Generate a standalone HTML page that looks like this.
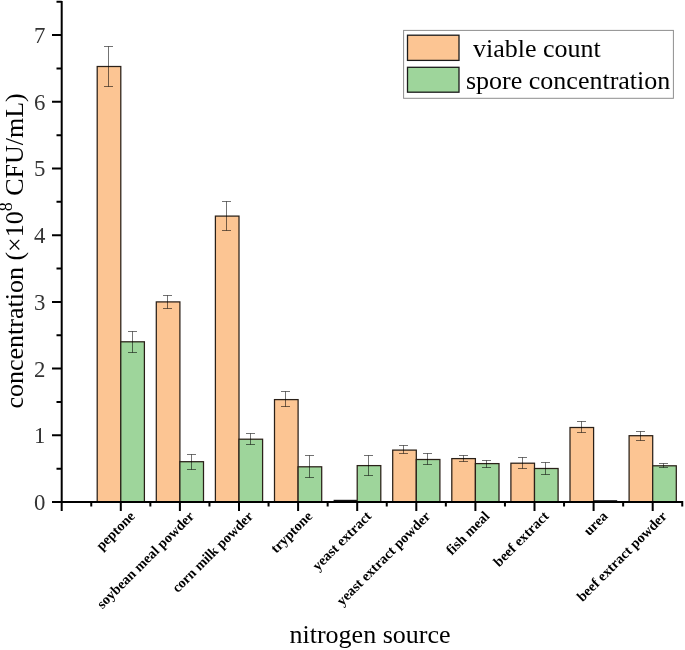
<!DOCTYPE html>
<html><head><meta charset="utf-8"><style>
html,body{margin:0;padding:0;background:#fff;}
svg{display:block;will-change:transform;}
.tl{font-family:"Liberation Serif",serif;font-size:22.8px;fill:#333;}
.lg{font-family:"Liberation Serif",serif;font-size:26px;fill:#000;}
.xl{font-family:"Liberation Serif",serif;font-size:14.2px;font-weight:bold;fill:#000;}
</style></head><body>
<svg width="685" height="650" viewBox="0 0 685 650">
<rect x="97.20" y="66.50" width="23.60" height="435.50" fill="#FCC593" stroke="#2a2018" stroke-width="1.25"/>
<rect x="120.80" y="341.80" width="23.60" height="160.20" fill="#9ED59B" stroke="#2a2018" stroke-width="1.25"/>
<rect x="156.30" y="301.90" width="23.60" height="200.10" fill="#FCC593" stroke="#2a2018" stroke-width="1.25"/>
<rect x="179.90" y="461.70" width="23.60" height="40.30" fill="#9ED59B" stroke="#2a2018" stroke-width="1.25"/>
<rect x="215.40" y="216.10" width="23.60" height="285.90" fill="#FCC593" stroke="#2a2018" stroke-width="1.25"/>
<rect x="239.00" y="439.20" width="23.60" height="62.80" fill="#9ED59B" stroke="#2a2018" stroke-width="1.25"/>
<rect x="274.50" y="399.60" width="23.60" height="102.40" fill="#FCC593" stroke="#2a2018" stroke-width="1.25"/>
<rect x="298.10" y="466.80" width="23.60" height="35.20" fill="#9ED59B" stroke="#2a2018" stroke-width="1.25"/>
<rect x="333.60" y="499.80" width="23.60" height="2.2" fill="#111"/>
<rect x="357.20" y="465.60" width="23.60" height="36.40" fill="#9ED59B" stroke="#2a2018" stroke-width="1.25"/>
<rect x="392.70" y="450.10" width="23.60" height="51.90" fill="#FCC593" stroke="#2a2018" stroke-width="1.25"/>
<rect x="416.30" y="459.50" width="23.60" height="42.50" fill="#9ED59B" stroke="#2a2018" stroke-width="1.25"/>
<rect x="451.80" y="458.60" width="23.60" height="43.40" fill="#FCC593" stroke="#2a2018" stroke-width="1.25"/>
<rect x="475.40" y="463.60" width="23.60" height="38.40" fill="#9ED59B" stroke="#2a2018" stroke-width="1.25"/>
<rect x="510.90" y="463.20" width="23.60" height="38.80" fill="#FCC593" stroke="#2a2018" stroke-width="1.25"/>
<rect x="534.50" y="468.50" width="23.60" height="33.50" fill="#9ED59B" stroke="#2a2018" stroke-width="1.25"/>
<rect x="570.00" y="427.50" width="23.60" height="74.50" fill="#FCC593" stroke="#2a2018" stroke-width="1.25"/>
<rect x="593.60" y="500.20" width="23.60" height="1.8" fill="#111"/>
<rect x="629.10" y="435.70" width="23.60" height="66.30" fill="#FCC593" stroke="#2a2018" stroke-width="1.25"/>
<rect x="652.70" y="465.80" width="23.60" height="36.20" fill="#9ED59B" stroke="#2a2018" stroke-width="1.25"/>
<path d="M108.50 46.50V86.50M104.00 46.50H113.00M104.00 86.50H113.00M132.50 331.50V352.50M128.00 331.50H137.00M128.00 352.50H137.00M167.50 295.50V308.50M163.00 295.50H172.00M163.00 308.50H172.00M191.50 454.50V469.50M187.00 454.50H196.00M187.00 469.50H196.00M226.50 201.50V230.50M222.00 201.50H231.00M222.00 230.50H231.00M250.50 433.50V444.50M246.00 433.50H255.00M246.00 444.50H255.00M285.50 391.50V406.50M281.00 391.50H290.00M281.00 406.50H290.00M309.50 455.50V477.50M305.00 455.50H314.00M305.00 477.50H314.00M368.50 455.50V475.50M364.00 455.50H373.00M364.00 475.50H373.00M403.50 445.50V453.50M399.00 445.50H408.00M399.00 453.50H408.00M427.50 453.50V464.50M423.00 453.50H432.00M423.00 464.50H432.00M463.50 455.50V461.50M459.00 455.50H468.00M459.00 461.50H468.00M486.50 460.50V467.50M482.00 460.50H491.00M482.00 467.50H491.00M522.50 457.50V468.50M518.00 457.50H527.00M518.00 468.50H527.00M545.50 462.50V474.50M541.00 462.50H550.00M541.00 474.50H550.00M581.50 421.50V432.50M577.00 421.50H586.00M577.00 432.50H586.00M640.50 431.50V440.50M636.00 431.50H645.00M636.00 440.50H645.00M663.50 463.50V467.50M659.00 463.50H668.00M659.00 467.50H668.00" stroke="#000" stroke-opacity="0.55" stroke-width="1" fill="none"/>
<path d="M61.70 1V511M52 502.0H683.25M52 502.00H61.7M52 435.30H61.7M52 368.60H61.7M52 301.90H61.7M52 235.20H61.7M52 168.50H61.7M52 101.80H61.7M52 35.10H61.7M56.5 468.65H61.7M56.5 401.95H61.7M56.5 335.25H61.7M56.5 268.55H61.7M56.5 201.85H61.7M56.5 135.15H61.7M56.5 68.45H61.7M56.5 1.75H61.7M61.70 502.0V511M120.80 502.0V511M179.90 502.0V511M239.00 502.0V511M298.10 502.0V511M357.20 502.0V511M416.30 502.0V511M475.40 502.0V511M534.50 502.0V511M593.60 502.0V511M652.70 502.0V511M91.25 502.0V506.5M150.35 502.0V506.5M209.45 502.0V506.5M268.55 502.0V506.5M327.65 502.0V506.5M386.75 502.0V506.5M445.85 502.0V506.5M504.95 502.0V506.5M564.05 502.0V506.5M623.15 502.0V506.5M682.25 502.0V506.5" stroke="#000" stroke-width="2" fill="none" stroke-linecap="butt"/>
<text id="t0" x="45.3" y="509.90" text-anchor="end" class="tl">0</text>
<text id="t1" x="45.3" y="443.20" text-anchor="end" class="tl">1</text>
<text id="t2" x="45.3" y="376.50" text-anchor="end" class="tl">2</text>
<text id="t3" x="45.3" y="309.80" text-anchor="end" class="tl">3</text>
<text id="t4" x="45.3" y="243.10" text-anchor="end" class="tl">4</text>
<text id="t5" x="45.3" y="176.40" text-anchor="end" class="tl">5</text>
<text id="t6" x="45.3" y="109.70" text-anchor="end" class="tl">6</text>
<text id="t7" x="45.3" y="43.00" text-anchor="end" class="tl">7</text>
<rect x="403.6" y="30.4" width="269.8" height="67.9" fill="#fff" stroke="#8e8e8e" stroke-width="1"/>
<rect x="407.5" y="35.2" width="51.5" height="25.2" fill="#FCC593" stroke="#1a1a1a" stroke-width="1.3"/>
<rect x="407.5" y="67.3" width="51.5" height="24.9" fill="#9ED59B" stroke="#1a1a1a" stroke-width="1.3"/>
<text id="l1" x="473" y="56.8" class="lg">viable count</text>
<text id="l2" x="466" y="89.0" class="lg">spore concentration</text>
<text id="xt" x="289.5" y="643" class="lg">nitrogen source</text>
<text id="yt" transform="translate(23.2,408.6) rotate(-90)" class="lg" style="font-size:26px">concentration (×10<tspan dy="-11" font-size="18">8</tspan><tspan dy="11"> CFU/mL)</tspan></text>
<text id="xl0" transform="translate(135.80,517.00) rotate(-45)" text-anchor="end" class="xl">peptone</text>
<text id="xl1" transform="translate(194.90,517.00) rotate(-45)" text-anchor="end" class="xl">soybean meal powder</text>
<text id="xl2" transform="translate(254.00,517.00) rotate(-45)" text-anchor="end" class="xl">corn milk powder</text>
<text id="xl3" transform="translate(313.10,517.00) rotate(-45)" text-anchor="end" class="xl">tryptone</text>
<text id="xl4" transform="translate(372.20,517.00) rotate(-45)" text-anchor="end" class="xl">yeast extract</text>
<text id="xl5" transform="translate(431.30,517.00) rotate(-45)" text-anchor="end" class="xl">yeast extract powder</text>
<text id="xl6" transform="translate(490.40,517.00) rotate(-45)" text-anchor="end" class="xl">fish meal</text>
<text id="xl7" transform="translate(549.50,517.00) rotate(-45)" text-anchor="end" class="xl">beef extract</text>
<text id="xl8" transform="translate(608.60,517.00) rotate(-45)" text-anchor="end" class="xl">urea</text>
<text id="xl9" transform="translate(667.70,517.00) rotate(-45)" text-anchor="end" class="xl">beef extract powder</text>
</svg>
</body></html>
